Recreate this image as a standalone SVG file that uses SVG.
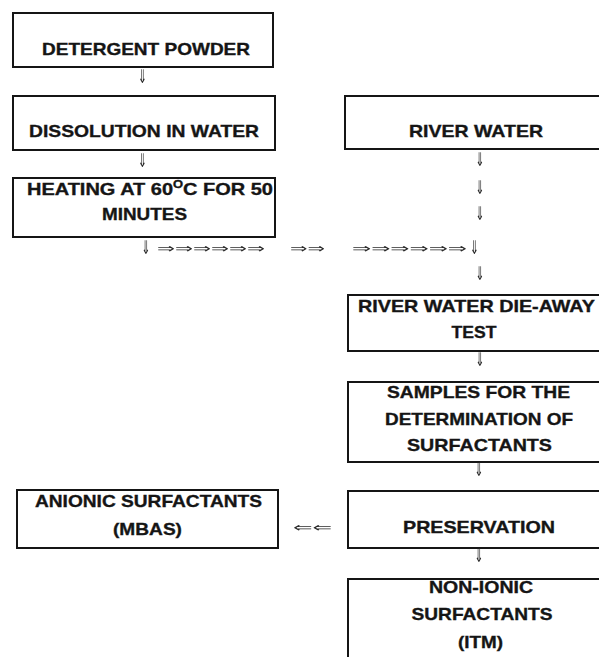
<svg xmlns="http://www.w3.org/2000/svg" width="599" height="657" viewBox="0 0 599 657">
<defs>
<filter id="flat" filterUnits="userSpaceOnUse" x="0" y="0" width="599" height="657"><feOffset dx="0" dy="0"/></filter>
</defs>
<style>
.box{fill:#fff;stroke:#151515;stroke-width:2}
.t{font-family:"Liberation Sans",Arial,sans-serif;font-weight:bold;font-size:17px;fill:#151515;stroke:#151515;stroke-width:0.35;text-anchor:middle}
.a{font-family:"DejaVu Sans",sans-serif;font-size:13px;fill:#2a2a2a}
.v{font-family:"DejaVu Sans",sans-serif;font-size:14px;fill:#2a2a2a;text-anchor:middle}
</style>
<rect width="599" height="657" fill="#fff"/>
<g id="detergent">
<rect class="box" x="13" y="13" width="260" height="54"/>
<text class="t" x="146" y="55" textLength="208" lengthAdjust="spacingAndGlyphs">DETERGENT POWDER</text>
</g>
<g id="dissolution">
<rect class="box" x="13" y="96" width="262" height="54"/>
<text class="t" x="144" y="137" textLength="230" lengthAdjust="spacingAndGlyphs">DISSOLUTION IN WATER</text>
</g>
<g id="heating">
<rect class="box" x="13" y="178" width="262" height="59"/>
<text class="t" x="150" y="195" textLength="246" lengthAdjust="spacingAndGlyphs">HEATING AT 60<tspan font-size="11" dy="-7">O</tspan><tspan dy="7">C FOR 50</tspan></text>
<text class="t" x="144.5" y="220" textLength="85" lengthAdjust="spacingAndGlyphs">MINUTES</text>
</g>
<g id="river">
<rect class="box" x="345" y="96" width="270" height="53"/>
<text class="t" x="476" y="137" textLength="134" lengthAdjust="spacingAndGlyphs">RIVER WATER</text>
</g>
<g id="dieaway">
<rect class="box" x="348" y="295" width="267" height="56"/>
<text class="t" x="476.5" y="312" textLength="237" lengthAdjust="spacingAndGlyphs">RIVER WATER DIE-AWAY</text>
<text class="t" x="474" y="338" textLength="45" lengthAdjust="spacingAndGlyphs">TEST</text>
</g>
<g id="samples">
<rect class="box" x="348" y="382" width="267" height="80"/>
<text class="t" x="478.5" y="398" textLength="183" lengthAdjust="spacingAndGlyphs">SAMPLES FOR THE</text>
<text class="t" x="479" y="424.5" textLength="188" lengthAdjust="spacingAndGlyphs">DETERMINATION OF</text>
<text class="t" x="479.5" y="451" textLength="145" lengthAdjust="spacingAndGlyphs">SURFACTANTS</text>
</g>
<g id="preservation">
<rect class="box" x="348" y="491" width="267" height="57"/>
<text class="t" x="479" y="533" textLength="152" lengthAdjust="spacingAndGlyphs">PRESERVATION</text>
</g>
<g id="nonionic">
<rect class="box" x="348" y="579" width="267" height="90"/>
<text class="t" x="481" y="593" textLength="104" lengthAdjust="spacingAndGlyphs">NON-IONIC</text>
<text class="t" x="482" y="620" textLength="141" lengthAdjust="spacingAndGlyphs">SURFACTANTS</text>
<text class="t" x="480.5" y="648" textLength="45" lengthAdjust="spacingAndGlyphs">(ITM)</text>
</g>
<g id="anionic">
<rect class="box" x="17" y="490" width="261" height="58"/>
<text class="t" x="148.5" y="507" textLength="227" lengthAdjust="spacingAndGlyphs">ANIONIC SURFACTANTS</text>
<text class="t" x="147.5" y="535" textLength="69" lengthAdjust="spacingAndGlyphs">(MBAS)</text>
</g>
<g id="connectors" filter="url(#flat)">
<text class="v" transform="translate(142.5,83) scale(0.75,1.35)">⇓</text>
<text class="v" transform="translate(142.5,167) scale(0.75,1.35)">⇓</text>
<text class="v" transform="translate(146,254) scale(0.75,1.35)">⇓</text>
<text class="a" x="157" y="253" textLength="108" lengthAdjust="spacingAndGlyphs">⇒⇒⇒⇒⇒⇒</text>
<text class="a" x="290" y="253" textLength="35" lengthAdjust="spacingAndGlyphs">⇒⇒</text>
<text class="a" x="352" y="253" textLength="115" lengthAdjust="spacingAndGlyphs">⇒⇒⇒⇒⇒⇒</text>
<text class="v" transform="translate(474.5,254) scale(0.75,1.35)">⇓</text>
<text class="v" transform="translate(480,166) scale(0.75,1.35)">⇓</text>
<text class="v" transform="translate(480,194) scale(0.75,1.35)">⇓</text>
<text class="v" transform="translate(480,220) scale(0.75,1.35)">⇓</text>
<text class="v" transform="translate(480,280) scale(0.75,1.35)">⇓</text>
<text class="v" transform="translate(480,366) scale(0.75,1.35)">⇓</text>
<text class="v" transform="translate(479,476) scale(0.75,1.35)">⇓</text>
<text class="v" transform="translate(479,562) scale(0.75,1.35)">⇓</text>
<text class="a" x="293" y="532" textLength="39" lengthAdjust="spacingAndGlyphs">⇐⇐</text>
</g>
</svg>
